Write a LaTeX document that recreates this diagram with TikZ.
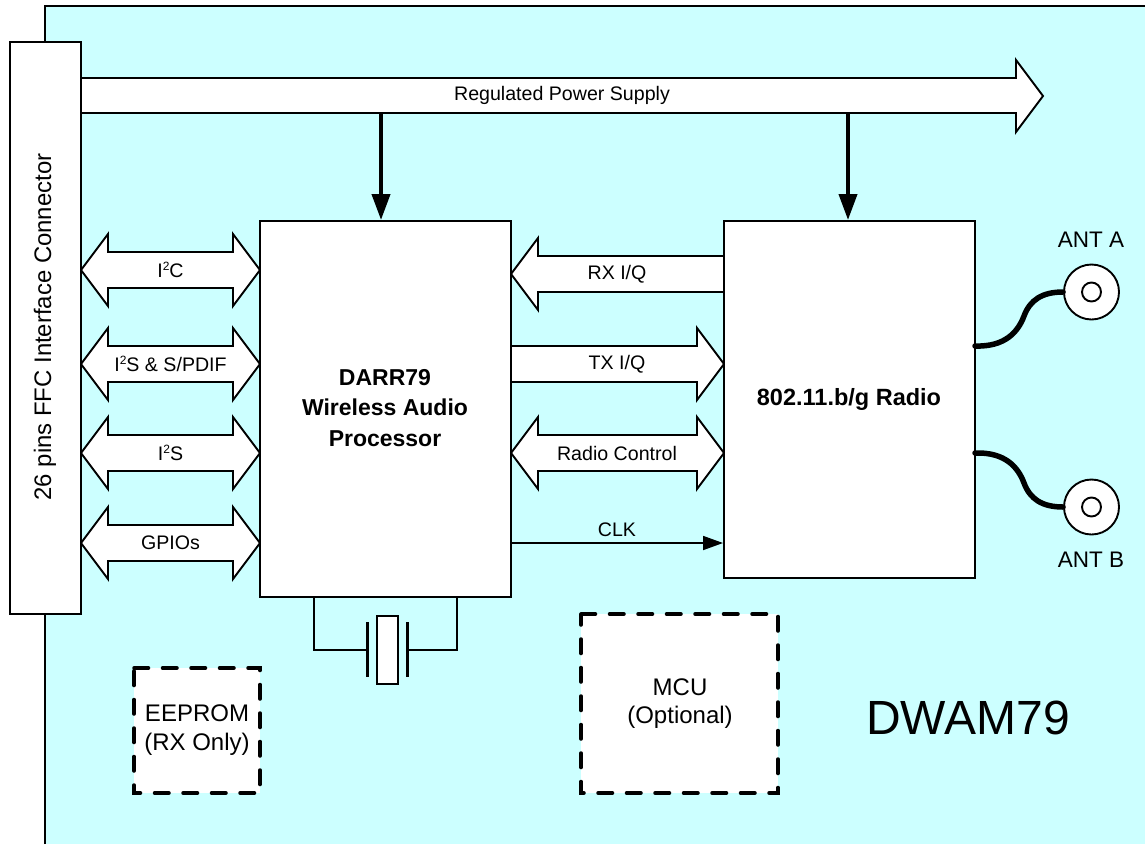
\documentclass[tikz,border=0pt]{standalone}
\usepackage{fontspec}
\setmainfont{Liberation Sans}
\usetikzlibrary{arrows.meta,calc}
\definecolor{board}{HTML}{CCFFFF}
\newcommand{\fs}[1]{\fontsize{#1}{#1}\selectfont}
\newcommand{\supt}{\raisebox{0.38em}{\fontsize{12}{12}\selectfont 2}}
\tikzset{
  x=1pt,y=-1pt,
  blockbox/.style={draw=black,fill=white,line width=2pt,inner sep=0,anchor=center},
  dashbox/.style={draw=black,line width=3.5pt,dash pattern=on 14.5pt off 14pt,line cap=round},
  txt/.style={inner sep=0,align=center,font=\fs{19.6},text=black},
  boldtxt/.style={inner sep=0,align=center,font=\fs{23}\bfseries,text=black},
  busline/.style={draw=black,line width=1.9pt,fill=white,line join=miter},
  thin conn/.style={draw=black,line width=1.8pt},
  pwr/.style={draw=black,line width=4pt,-{Triangle[length=26pt,width=18pt]}},
  clkarrow/.style={draw=black,line width=1.8pt,-{Triangle[length=20pt,width=14pt]}},
  ant/.style={draw=black,line width=5.5pt,line cap=round},
  ring/.style={draw=black,fill=white,line width=1.9pt,circle,inner sep=0},
}
\newcommand{\dbus}[3]{%
  \draw[busline] (#1,#3) -- ({#1+27},{#3-36}) -- ({#1+27},{#3-18}) -- ({#2-27},{#3-18}) -- ({#2-27},{#3-36}) -- (#2,#3)
   -- ({#2-27},{#3+36}) -- ({#2-27},{#3+18}) -- ({#1+27},{#3+18}) -- ({#1+27},{#3+36}) -- cycle;}
\begin{document}
\begin{tikzpicture}
\useasboundingbox (0,0) rectangle (1145,844);
% board
\fill[board] (45,6) rectangle (1145,844);
\draw[black,line width=1.9pt] (45,844) -- (45,6) -- (1145,6);
% power bus
\draw[busline] (81,78) -- (1016,78) -- (1016,60) -- (1043,96) -- (1016,132) -- (1016,113) -- (81,113);
\node[txt] (psu) at (562,95.5) {Regulated Power Supply};
% buses drawn under the blocks
\dbus{81}{260}{270}
\dbus{81}{260}{364}
\dbus{81}{260}{453}
\dbus{81}{260}{543}
\draw[busline] (724,256) -- (538,256) -- (538,238) -- (511,274) -- (538,310) -- (538,292) -- (724,292);
\draw[busline] (511,346) -- (697,346) -- (697,328) -- (724,364) -- (697,400) -- (697,382) -- (511,382);
\dbus{511}{724}{453}
% blocks
\node[blockbox,minimum width=71pt,minimum height=572pt] (conn) at (45.5,328) {};
\node[txt,rotate=90,font=\fs{23.9}] (connt) at (45,327) {26 pins FFC Interface Connector};
\node[blockbox,minimum width=251pt,minimum height=376pt] (proc) at (385.5,409) {};
\node[boldtxt] (proct) at (385,408) {DARR79\\[7.5pt]Wireless Audio\\[7.5pt]Processor};
\node[blockbox,minimum width=251pt,minimum height=357pt] (radio) at (849.5,399.5) {};
\node[boldtxt,font=\fs{23.5}\bfseries] (radiot) at (849,399) {802.11.b/g Radio};
% power connectors
\coordinate (p1) at (381,112);
\coordinate (p2) at (848,112);
\draw[pwr] (p1) -- (p1 |- proc.north);
\draw[pwr] (p2) -- (p2 |- radio.north);
% labels
\node[txt] (l1) at (170.5,270) {I\supt C};
\node[txt] (l2) at (170.5,364) {I\supt S \& S/PDIF};
\node[txt] (l3) at (170.5,453) {I\supt S};
\node[txt] (l4) at (170.5,543) {GPIOs};
\node[txt] (m1) at (617,274) {RX I/Q};
\node[txt] (m2) at (617,364) {TX I/Q};
\node[txt] (m3) at (617,453) {Radio Control};
\coordinate (c1) at (proc.east |- 0,543);
\coordinate (c2) at (radio.west |- 0,543);
\draw[clkarrow] (c1) -- (c2);
\node[txt] (m4) at (617,530) {CLK};
% crystal
\node[draw=black,fill=white,line width=1.9pt,minimum width=21pt,minimum height=68pt,inner sep=0] (xtal) at (387.5,650) {};
\coordinate (xl) at (367,650);
\coordinate (xr) at (407,650);
\draw[thin conn] (314,596) -- (314,650) -- (xl);
\draw[thin conn] (457,596) -- (457,650) -- (xr);
\draw[black,line width=3pt] (367,622) -- (367,677);
\draw[black,line width=3pt] (407,622) -- (407,677);
% antennas
\node[ring,minimum size=55pt] (a) at (1091.5,292) {};
\node[ring,minimum size=19pt] at (a) {};
\node[ring,minimum size=55pt] (b) at (1091.5,507) {};
\node[ring,minimum size=19pt] at (b) {};
\coordinate (ra) at (975,346);
\coordinate (rb) at (975,453);
\draw[ant] (ra) .. controls (1005,347) and (1018,332) .. (1024,316) .. controls (1030,300) and (1042,292) .. (a.west);
\draw[ant] (rb) .. controls (1005,452) and (1018,467) .. (1024,483) .. controls (1030,499) and (1042,507) .. (b.west);
\node[txt,font=\fs{22.5}] (anta) at (1091,239.5) {ANT A};
\node[txt,font=\fs{22.5}] (antb) at (1091,560) {ANT B};
% dashed blocks
\fill[white] (134,668) rectangle (260,793);
\draw[dashbox] (134,668) -- (260,668) -- (260,793) -- (134,793) -- cycle;
\node[txt,font=\fs{24}] (ee) at (197,730) {EEPROM\\[5pt](RX Only)};
\fill[white] (581,614) rectangle (778,793);
\draw[dashbox] (581,614) -- (778,614) -- (778,793) -- (581,793) -- cycle;
\node[txt,font=\fs{24}] (mcu) at (680,704) {MCU\\[4pt](Optional)};
\node[txt,font=\fs{48}] (dw) at (968,718) {DWAM79};
\end{tikzpicture}
\end{document}
